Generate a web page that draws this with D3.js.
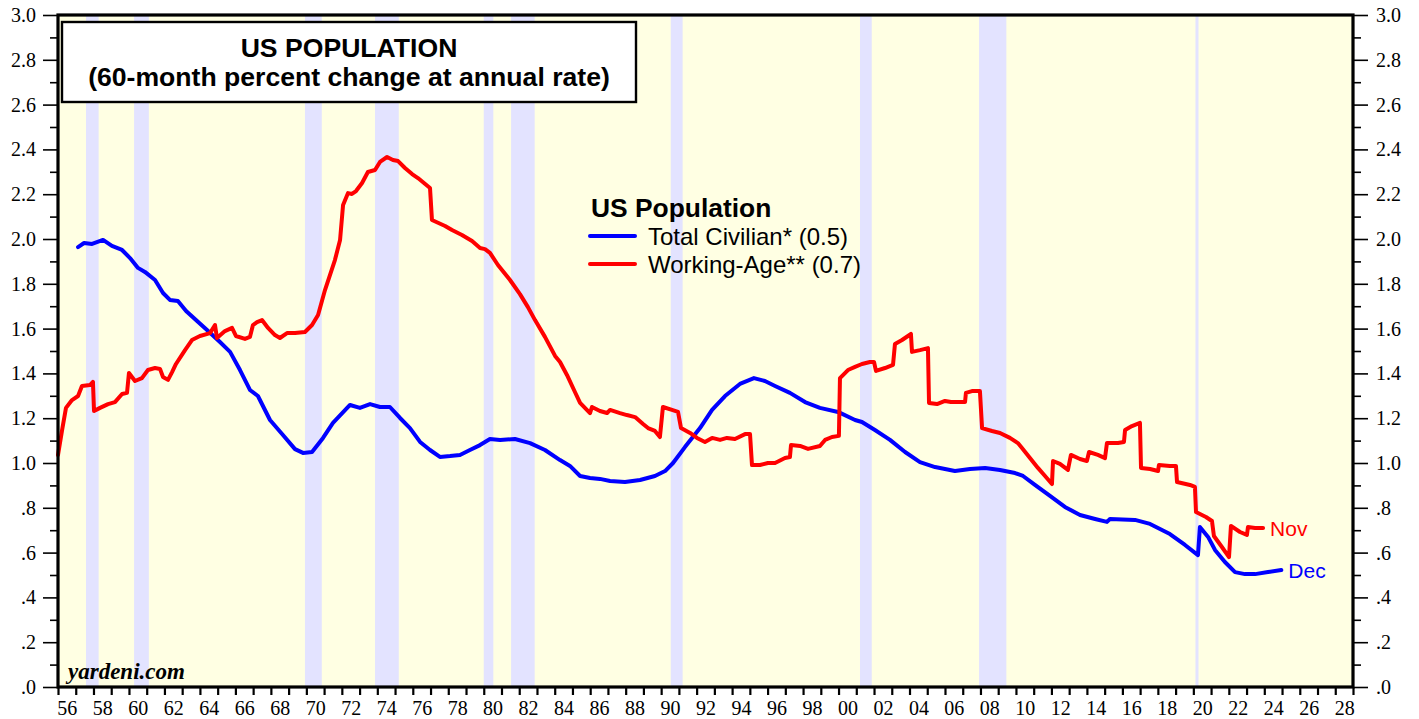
<!DOCTYPE html>
<html>
<head>
<meta charset="utf-8">
<script src="https://cdn.jsdelivr.net/npm/d3@7"></script>
<style>
  html, body { margin: 0; padding: 0; background: #ffffff; }
  svg { display: block; }
</style>
</head>
<body>
<svg id="chart" width="1419" height="719"></svg>
<script>
// ---------------- DATA ----------------
const yTickValues = [0, 0.2, 0.4, 0.6, 0.8, 1.0, 1.2, 1.4, 1.6, 1.8, 2.0, 2.2, 2.4, 2.6, 2.8, 3.0];
const yTickLabels = [".0", ".2", ".4", ".6", ".8", "1.0", "1.2", "1.4", "1.6", "1.8", "2.0", "2.2", "2.4", "2.6", "2.8", "3.0"];
const xLabelYears = [1956, 1958, 1960, 1962, 1964, 1966, 1968, 1970, 1972, 1974, 1976, 1978, 1980, 1982, 1984, 1986, 1988, 1990, 1992, 1994, 1996, 1998, 2000, 2002, 2004, 2006, 2008, 2010, 2012, 2014, 2016, 2018, 2020, 2022, 2024, 2026, 2028];

// recessions [start, end] (decimal years)
const recessions = [
  [1957.58, 1958.29], [1960.29, 1961.12], [1969.92, 1970.87], [1973.87, 1975.21],
  [1980.00, 1980.54], [1981.54, 1982.87], [1990.54, 1991.21], [2001.21, 2001.87],
  [2007.92, 2009.46], [2020.12, 2020.29]
];

// Total Civilian population, 60-month % change at annual rate [year, value]
const civilian = [
  [1957.13,1.964],[1957.47,1.982],[1957.92,1.978],[1958.54,1.996],[1959.04,1.969],[1959.61,1.951],
  [1960.06,1.915],[1960.51,1.871],[1960.90,1.853],[1961.47,1.817],[1961.92,1.759],[1962.31,1.728],
  [1962.76,1.723],[1963.22,1.679],[1963.84,1.634],[1964.40,1.594],[1965.13,1.540],[1965.70,1.496],
  [1966.26,1.415],[1966.82,1.326],[1967.27,1.299],[1967.95,1.192],[1968.68,1.125],[1969.36,1.062],
  [1969.81,1.045],[1970.32,1.049],[1970.94,1.112],[1971.50,1.179],[1972.46,1.259],[1973.02,1.246],
  [1973.59,1.263],[1974.15,1.250],[1974.71,1.250],[1975.28,1.201],[1975.84,1.156],[1976.41,1.094],
  [1976.97,1.058],[1977.53,1.027],[1978.10,1.031],[1978.66,1.036],[1979.22,1.058],[1979.79,1.080],
  [1980.35,1.107],[1980.92,1.103],[1981.76,1.107],[1982.61,1.089],[1983.45,1.058],[1984.30,1.013],
  [1984.86,0.987],[1985.43,0.942],[1985.99,0.933],[1986.55,0.929],[1987.12,0.920],[1987.96,0.915],
  [1988.81,0.924],[1989.65,0.942],[1990.22,0.964],[1990.67,1.000],[1991.34,1.071],[1992.19,1.156],
  [1992.87,1.237],[1993.60,1.299],[1994.44,1.353],[1995.23,1.379],[1995.85,1.366],[1996.42,1.344],
  [1997.26,1.313],[1998.11,1.272],[1998.95,1.246],[1999.97,1.228],[2000.93,1.192],[2001.32,1.183],
  [2002.05,1.147],[2002.90,1.103],[2003.75,1.049],[2004.59,1.004],[2005.44,0.982],[2006.56,0.964],
  [2007.41,0.973],[2008.26,0.978],[2009.10,0.969],[2009.95,0.955],[2010.40,0.942],[2011.07,0.902],
  [2011.92,0.853],[2012.76,0.804],[2013.61,0.768],[2014.46,0.750],[2015.13,0.737],[2015.30,0.750],
  [2016.71,0.746],[2017.56,0.728],[2018.68,0.683],[2019.53,0.634],[2020.26,0.589],[2020.37,0.714],
  [2020.83,0.670],[2021.22,0.612],[2021.78,0.558],[2022.35,0.513],[2022.91,0.504],[2023.48,0.504],
  [2024.21,0.513],[2024.96,0.522]
];

// Working-Age population, 60-month % change at annual rate [year, value]
const workingAge = [
  [1956.00,1.036],[1956.23,1.147],[1956.45,1.246],[1956.79,1.281],[1957.13,1.299],[1957.35,1.344],
  [1957.80,1.348],[1957.97,1.362],[1958.03,1.232],[1958.37,1.246],[1958.82,1.263],[1959.21,1.272],
  [1959.61,1.308],[1959.89,1.313],[1960.00,1.402],[1960.34,1.366],[1960.73,1.379],[1961.07,1.415],
  [1961.47,1.424],[1961.75,1.420],[1961.92,1.384],[1962.20,1.371],[1962.43,1.406],[1962.65,1.442],
  [1963.16,1.504],[1963.55,1.549],[1964.00,1.567],[1964.57,1.580],[1964.85,1.616],[1964.96,1.558],
  [1965.41,1.589],[1965.81,1.603],[1966.03,1.567],[1966.54,1.554],[1966.82,1.563],[1966.99,1.616],
  [1967.22,1.629],[1967.50,1.638],[1967.84,1.603],[1968.23,1.571],[1968.51,1.558],[1968.91,1.580],
  [1969.36,1.580],[1969.92,1.585],[1970.32,1.616],[1970.66,1.661],[1971.05,1.772],[1971.61,1.906],
  [1971.90,1.996],[1972.07,2.152],[1972.35,2.205],[1972.57,2.201],[1972.80,2.214],[1973.14,2.250],
  [1973.47,2.299],[1973.87,2.308],[1974.15,2.344],[1974.55,2.366],[1974.88,2.353],[1975.17,2.348],
  [1975.56,2.317],[1975.96,2.290],[1976.29,2.272],[1976.97,2.228],[1977.08,2.085],[1977.82,2.058],
  [1978.21,2.040],[1978.77,2.018],[1979.34,1.991],[1979.79,1.960],[1980.07,1.955],[1980.35,1.938],
  [1980.80,1.884],[1981.48,1.817],[1982.04,1.754],[1982.49,1.696],[1982.89,1.638],[1983.45,1.563],
  [1984.02,1.478],[1984.30,1.451],[1984.69,1.393],[1985.14,1.317],[1985.43,1.268],[1985.99,1.223],
  [1986.10,1.250],[1986.55,1.232],[1986.95,1.223],[1987.12,1.237],[1987.68,1.223],[1988.07,1.214],
  [1988.53,1.205],[1988.98,1.174],[1989.26,1.156],[1989.65,1.143],[1989.93,1.116],[1990.10,1.250],
  [1990.61,1.237],[1990.95,1.228],[1991.12,1.156],[1991.63,1.134],[1992.02,1.112],[1992.47,1.094],
  [1992.87,1.112],[1993.32,1.103],[1993.71,1.112],[1994.16,1.107],[1994.73,1.129],[1995.01,1.129],
  [1995.12,0.991],[1995.57,0.991],[1996.02,1.000],[1996.42,1.000],[1996.98,1.022],[1997.26,1.027],
  [1997.32,1.080],[1997.83,1.076],[1998.28,1.063],[1998.95,1.076],[1999.24,1.103],[1999.63,1.116],
  [2000.02,1.121],[2000.08,1.379],[2000.53,1.415],[2000.93,1.429],[2001.32,1.442],[2001.77,1.451],
  [2002.00,1.451],[2002.11,1.411],[2002.62,1.424],[2003.07,1.438],[2003.18,1.531],[2003.58,1.549],
  [2004.08,1.576],[2004.14,1.496],[2004.59,1.504],[2005.04,1.513],[2005.10,1.268],[2005.55,1.263],
  [2006.00,1.277],[2006.34,1.272],[2007.13,1.272],[2007.18,1.313],[2007.52,1.321],[2007.97,1.321],
  [2008.09,1.156],[2008.65,1.143],[2009.10,1.134],[2009.66,1.112],[2010.11,1.089],[2010.34,1.067],
  [2010.79,1.022],[2011.24,0.978],[2011.64,0.942],[2012.03,0.906],[2012.09,1.009],[2012.48,0.996],
  [2012.93,0.969],[2013.10,1.036],[2013.61,1.018],[2014.00,1.009],[2014.12,1.049],[2014.62,1.036],
  [2015.02,1.022],[2015.13,1.089],[2015.75,1.089],[2016.09,1.094],[2016.15,1.147],[2016.54,1.165],
  [2016.99,1.179],[2017.05,0.978],[2017.56,0.973],[2018.01,0.964],[2018.06,0.991],[2018.68,0.987],
  [2019.02,0.987],[2019.08,0.915],[2019.81,0.902],[2020.09,0.893],[2020.15,0.781],[2020.71,0.759],
  [2021.05,0.741],[2021.16,0.674],[2021.61,0.625],[2022.01,0.580],[2022.12,0.719],[2022.63,0.692],
  [2023.02,0.679],[2023.08,0.714],[2023.48,0.710],[2023.93,0.710]
];

const seriesInfo = [
  { name: "Total Civilian* (0.5)", data: civilian, color: "#0000ff", end: "Dec" },
  { name: "Working-Age** (0.7)", data: workingAge, color: "#ff0000", end: "Nov" }
];

// ---------------- LAYOUT ----------------
const M = { left: 58, right: 1353, top: 15, bottom: 687 };
const svg = d3.select("#chart");
const x = d3.scaleLinear().domain([1956, 2029]).range([M.left, M.right]);
const y = d3.scaleLinear().domain([0, 3]).range([M.bottom, M.top]);

const serif = "'Liberation Serif', 'Times New Roman', serif";
const sans = "'Liberation Sans', Arial, Helvetica, sans-serif";

// plot background
svg.append("rect").attr("x", M.left).attr("y", M.top)
  .attr("width", M.right - M.left).attr("height", M.bottom - M.top)
  .attr("fill", "#ffffe3");

// recession bands
svg.append("g").selectAll("rect").data(recessions).join("rect")
  .attr("x", d => x(d[0])).attr("y", M.top)
  .attr("width", d => Math.max(2, x(d[1]) - x(d[0])))
  .attr("height", M.bottom - M.top)
  .attr("fill", "#e3e3ff");

// lines
const line = d3.line().x(d => x(d[0])).y(d => y(d[1]));
const gLines = svg.append("g");
seriesInfo.forEach(s => {
  gLines.append("path").datum(s.data)
    .attr("d", line).attr("fill", "none")
    .attr("stroke", s.color).attr("stroke-width", 4)
    .attr("stroke-linejoin", "round").attr("stroke-linecap", "round");
});

// end labels
seriesInfo.forEach(s => {
  const last = s.data[s.data.length - 1];
  svg.append("text")
    .attr("x", x(last[0]) + 7).attr("y", y(last[1]) + 8)
    .attr("fill", s.color).attr("font-family", sans).attr("font-size", 21)
    .text(s.end);
});

// axes
const fmtY = v => yTickLabels[yTickValues.findIndex(t => Math.abs(t - v) < 1e-9)];
const minorY = d3.range(1, 30, 2).map(i => i / 10);

function styleAxis(g) {
  g.select(".domain").remove();
  g.selectAll("line").attr("stroke", "#000").attr("stroke-width", 1.6);
  g.selectAll("text").attr("font-family", serif).attr("font-size", 20).attr("fill", "#000");
}

svg.append("g").attr("transform", `translate(${M.left},0)`)
  .call(d3.axisLeft(y).tickValues(yTickValues).tickFormat(fmtY).tickSize(15).tickPadding(7))
  .call(styleAxis);
svg.append("g").attr("transform", `translate(${M.left},0)`)
  .call(d3.axisLeft(y).tickValues(minorY).tickFormat("").tickSize(8))
  .call(styleAxis);
svg.append("g").attr("transform", `translate(${M.right},0)`)
  .call(d3.axisRight(y).tickValues(yTickValues).tickFormat(fmtY).tickSize(15).tickPadding(8))
  .call(styleAxis);
svg.append("g").attr("transform", `translate(${M.right},0)`)
  .call(d3.axisRight(y).tickValues(minorY).tickFormat("").tickSize(8))
  .call(styleAxis);

// x ticks every year
svg.append("g").attr("transform", `translate(0,${M.bottom})`)
  .call(d3.axisBottom(x).tickValues(d3.range(1956, 2030)).tickFormat("").tickSize(8))
  .call(styleAxis)
  .selectAll("line").attr("stroke-width", 2.2);
// x labels centred on mid-year
svg.append("g").attr("transform", `translate(0,${M.bottom})`)
  .call(d3.axisBottom(x).tickValues(xLabelYears.map(v => v + 0.5))
    .tickFormat(v => String(Math.floor(v)).slice(2)).tickSize(0).tickPadding(14))
  .call(styleAxis);

// frame
svg.append("rect").attr("x", M.left).attr("y", M.top)
  .attr("width", M.right - M.left).attr("height", M.bottom - M.top)
  .attr("fill", "none").attr("stroke", "#000").attr("stroke-width", 3.2);

// title box
svg.append("rect").attr("x", 62).attr("y", 22).attr("width", 574).attr("height", 80)
  .attr("fill", "#ffffff").attr("stroke", "#000").attr("stroke-width", 2.4);
svg.append("text").attr("x", 349).attr("y", 57).attr("text-anchor", "middle")
  .attr("font-family", sans).attr("font-weight", "bold").attr("font-size", 26.6)
  .text("US POPULATION");
svg.append("text").attr("x", 349).attr("y", 86).attr("text-anchor", "middle")
  .attr("font-family", sans).attr("font-weight", "bold").attr("font-size", 26.6)
  .text("(60-month percent change at annual rate)");

// legend
svg.append("text").attr("x", 591).attr("y", 217)
  .attr("font-family", sans).attr("font-weight", "bold").attr("font-size", 26.4)
  .text("US Population");
seriesInfo.forEach((s, i) => {
  const ly = 236 + i * 28;
  svg.append("line").attr("x1", 590).attr("x2", 635).attr("y1", ly).attr("y2", ly)
    .attr("stroke", s.color).attr("stroke-width", 4).attr("stroke-linecap", "round");
  svg.append("text").attr("x", 648).attr("y", ly + 9)
    .attr("font-family", sans).attr("font-size", 24).text(s.name);
});

// source
svg.append("text").attr("x", 68).attr("y", 679)
  .attr("font-family", serif).attr("font-weight", "bold").attr("font-style", "italic")
  .attr("font-size", 23).text("yardeni.com");
</script>
</body>
</html>
